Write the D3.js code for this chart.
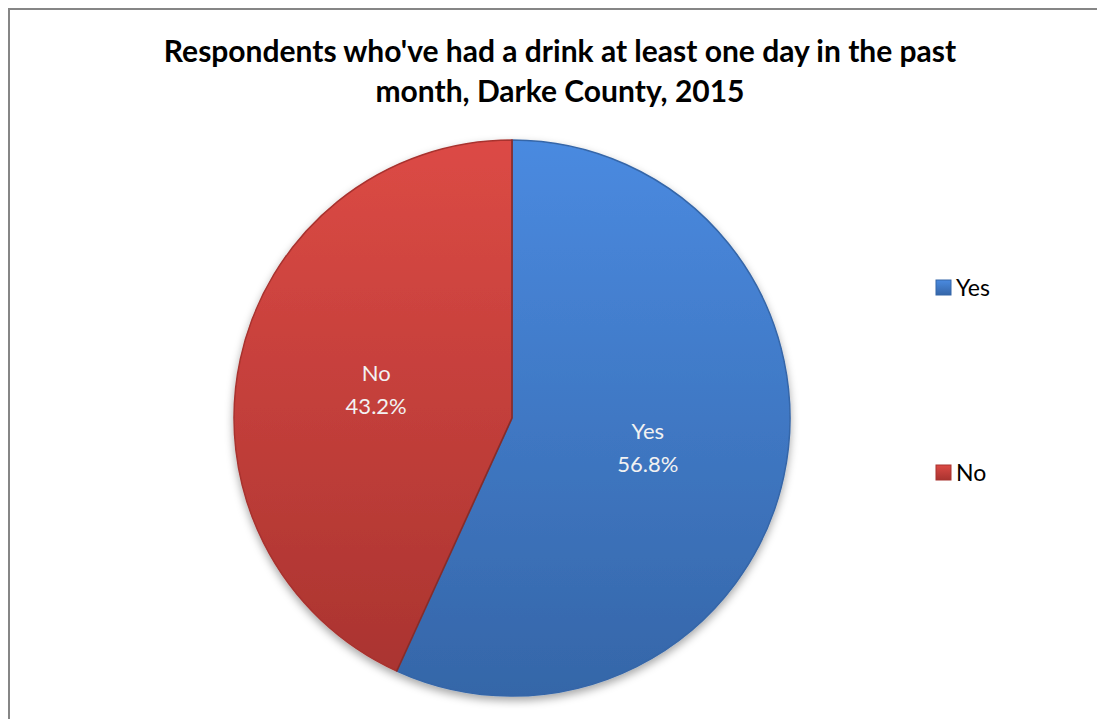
<!DOCTYPE html>
<html>
<head>
<meta charset="utf-8">
<script src="https://cdn.jsdelivr.net/npm/d3@7"></script>
<style>
  body { margin: 0; background: #fff; }
  text { font-family: Lato, "Open Sans", sans-serif; }
</style>
</head>
<body>
<svg width="1097" height="719"></svg>
<script>
// chart data
var categories = ["Yes", "No"];
var values = [56.8, 43.2];
var titleLines = ["Respondents who've had a drink at least one day in the past", "month, Darke County, 2015"];

// colours for each slice: light (top) and dark (bottom)
var lightColors = ["#4a8ae0", "#dc4a45"];
var darkColors = ["#3566a8", "#a8332f"];

let svg = d3.select("svg");
let width = parseInt(svg.attr("width"));
let height = parseInt(svg.attr("height"));

var cx = 512, cy = 418, radius = 278;

var defs = svg.append("defs");

// soft shadow under the pie
var shadow = defs.append("filter").attr("id", "shadow")
    .attr("x", "-20%").attr("y", "-20%").attr("width", "140%").attr("height", "140%");
shadow.append("feDropShadow")
    .attr("dx", 0).attr("dy", 4).attr("stdDeviation", 4)
    .attr("flood-color", "#000").attr("flood-opacity", 0.35);

// vertical gradients for slices (pie group coords) and legend swatches
categories.forEach(function (c, i) {
    var g = defs.append("linearGradient")
        .attr("id", "grad" + i)
        .attr("gradientUnits", "userSpaceOnUse")
        .attr("x1", 0).attr("y1", -radius)
        .attr("x2", 0).attr("y2", radius);
    g.append("stop").attr("offset", "0%").attr("stop-color", lightColors[i]);
    g.append("stop").attr("offset", "100%").attr("stop-color", darkColors[i]);

    var lg = defs.append("linearGradient")
        .attr("id", "lgrad" + i)
        .attr("x1", 0).attr("y1", 0).attr("x2", 0).attr("y2", 1);
    lg.append("stop").attr("offset", "0%").attr("stop-color", lightColors[i]);
    lg.append("stop").attr("offset", "100%").attr("stop-color", darkColors[i]);
});

// chart frame (only left and top edges visible)
svg.append("rect")
    .attr("x", 9).attr("y", 9)
    .attr("width", width + 20).attr("height", height + 20)
    .attr("fill", "none")
    .attr("stroke", "#868686")
    .attr("stroke-width", 2);

// title
var title = svg.append("text")
    .attr("text-anchor", "middle")
    .attr("font-weight", "bold")
    .attr("font-size", 30)
    .attr("fill", "#000");
titleLines.forEach(function (line, i) {
    title.append("tspan")
        .attr("x", 560)
        .attr("y", 62 + i * 40)
        .text(line);
});

// pie
var pie = d3.pie().sort(null).value(function (d) { return d; });
var arc = d3.arc().innerRadius(0).outerRadius(radius);

var arcs = pie(values);

var g = svg.append("g").attr("transform", "translate(" + cx + "," + cy + ")");

g.append("g").attr("filter", "url(#shadow)")
    .selectAll("path")
    .data(arcs)
    .enter()
    .append("path")
    .attr("d", arc)
    .attr("fill", function (d, i) { return "url(#grad" + i + ")"; })
    .style("stroke", function (d, i) { return darkColors[i]; })
    .style("stroke-width", 1.5);

// darker divider lines between slices
g.selectAll(".divider")
    .data(arcs)
    .enter()
    .append("line")
    .attr("x1", 0).attr("y1", 0)
    .attr("x2", function (d) { return Math.sin(d.startAngle) * radius; })
    .attr("y2", function (d) { return -Math.cos(d.startAngle) * radius; })
    .style("stroke", "#6a2a28")
    .style("stroke-opacity", 0.6)
    .style("stroke-width", 1.5);

// data labels
var labels = g.selectAll(".label")
    .data(arcs)
    .enter()
    .append("text")
    .attr("text-anchor", "middle")
    .attr("font-size", 22)
    .attr("fill", "#f2f2f2")
    .attr("transform", function (d) { return "translate(" + arc.centroid(d) + ")"; });
labels.append("tspan")
    .attr("x", 0).attr("y", -8)
    .text(function (d, i) { return categories[i]; });
labels.append("tspan")
    .attr("x", 0).attr("y", 25)
    .text(function (d) { return d.value.toFixed(1) + "%"; });

// legend
var legend = svg.append("g").attr("transform", "translate(936,0)");
var legendY = d3.scalePoint().domain(categories).range([288, 473]);

legend.selectAll("rect")
    .data(categories)
    .enter()
    .append("rect")
    .attr("x", 0)
    .attr("y", function (d) { return legendY(d) - 8; })
    .attr("width", 15).attr("height", 15)
    .attr("fill", function (d, i) { return "url(#lgrad" + i + ")"; })
    .style("stroke", function (d, i) { return darkColors[i]; })
    .style("stroke-width", 1);

legend.selectAll("text")
    .data(categories)
    .enter()
    .append("text")
    .attr("x", 20)
    .attr("y", function (d) { return legendY(d) + 8; })
    .attr("font-size", 23)
    .attr("fill", "#000")
    .text(function (d) { return d; });
</script>
</body>
</html>
